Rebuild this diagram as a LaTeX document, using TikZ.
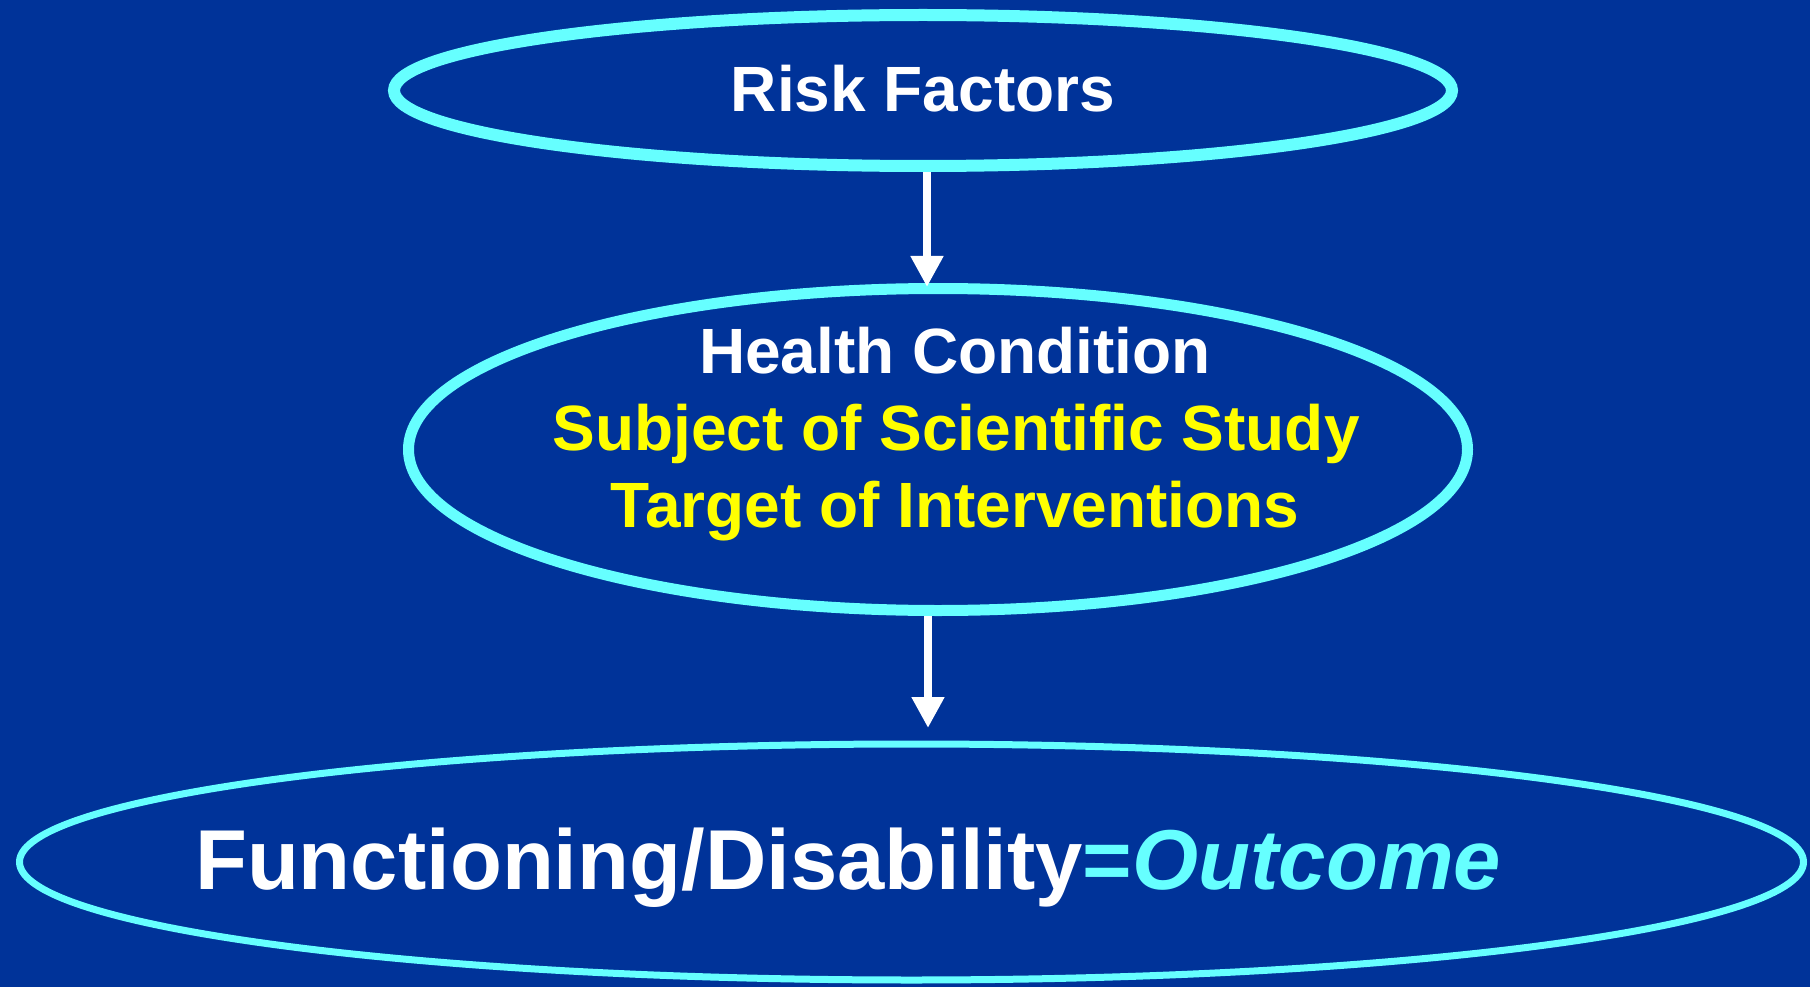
\documentclass[tikz,border=0pt]{standalone}
\usepackage{fontspec}
\setmainfont{Liberation Sans}
\usetikzlibrary{shapes.geometric,arrows.meta}
\definecolor{bgblue}{HTML}{003399}
\definecolor{ringcyan}{HTML}{66FFFF}
\definecolor{labelyellow}{HTML}{FFFF00}
\begin{document}
\begin{tikzpicture}[x=1pt,y=-1pt,
  ring/.style={ellipse, draw=ringcyan, inner sep=0pt},
  flow/.style={draw=white, line width=8pt,
    -{Triangle[width=31pt,length=31pt]}},
  txt/.style={inner sep=0pt, anchor=base, font=\bfseries\fontsize{64}{77}\selectfont}]
\fill[bgblue] (0,0) rectangle (1810,987);
\useasboundingbox (0,0) rectangle (1810,987);

% the three rings
\node[ring, line width=12pt, minimum width=1058pt, minimum height=151pt] (risk) at (923,90.5) {};
\node[ring, line width=11pt, minimum width=1059pt, minimum height=322pt] (health) at (938,449.5) {};
\node[ring, line width=7pt, minimum width=1784pt, minimum height=236pt] (outcome) at (911.5,862) {};

% labels (placed by their baselines)
\node[txt, text=white] (risklbl) at (923,112) {Risk Factors};
\node[txt, text=white] (hc1) at (955,373) {Health Condition};
\node[txt, text=labelyellow] (hc2) at (956,450) {Subject of Scientific Study};
\node[txt, text=labelyellow] (hc3) at (955,527) {Target of Interventions};
\node[inner sep=0pt, anchor=base, font=\bfseries\fontsize{85}{100}\selectfont] (outlbl) at (848,889)
  {\textcolor{white}{Functioning/Disability}\textcolor{ringcyan}{=\itshape Outcome}};

% arrows between rings
\coordinate (a1s) at (927,172);
\coordinate (a1e) at (927,287);
\coordinate (a2s) at (928,616);
\coordinate (a2e) at (928,728);
\draw[flow] (a1s) -- (a1e);
\draw[flow] (a2s) -- (a2e);
\end{tikzpicture}
\end{document}
